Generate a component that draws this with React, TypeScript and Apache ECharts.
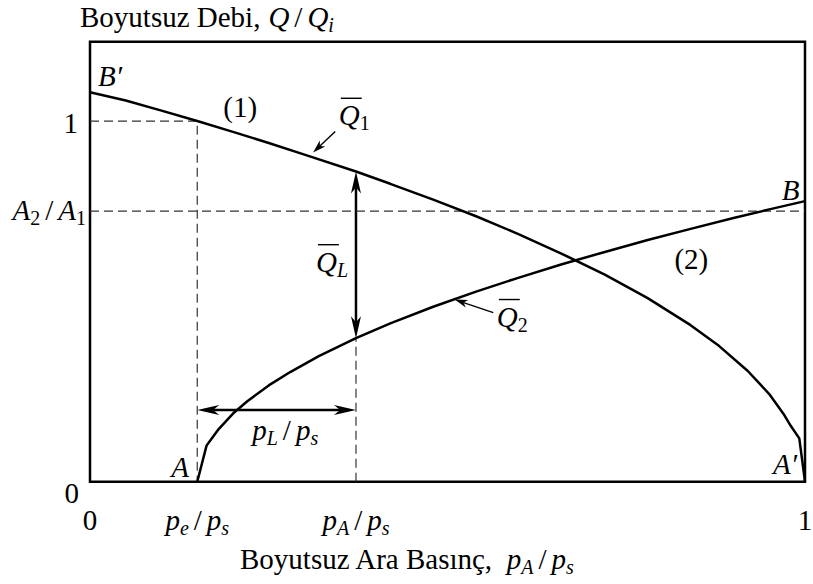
import React, { useEffect, useRef } from 'react';
import * as echarts from 'echarts';

const W = 813;
const H = 584;
const SERIF = '"Liberation Serif", "Times New Roman", Times, serif';
const FS = 29;

// Characteristic pressures (dimensionless, p / p_s) and area ratio
const pE = 0.15;
const pA = 0.372;
const areaRatio = 0.75;
const yMax = 1.22;

// Curve (1): Q1 / Qi against p_A / p_s
const q1X = [0, 0.05, 0.1, 0.15, 0.2, 0.25, 0.3, 0.372, 0.42, 0.48, 0.54, 0.6, 0.66, 0.72, 0.78, 0.84, 0.88, 0.92, 0.95, 0.97, 0.98, 0.992, 1.0];
const q1Y = [1.08, 1.057, 1.029, 1.0, 0.97, 0.939, 0.907, 0.86, 0.826, 0.782, 0.736, 0.686, 0.632, 0.574, 0.509, 0.434, 0.376, 0.307, 0.243, 0.188, 0.155, 0.12, 0];

// Curve (2): Q2 / Qi against p_A / p_s
const q2X = [0.15, 0.163, 0.17, 0.18, 0.2, 0.22, 0.25, 0.28, 0.32, 0.372, 0.42, 0.48, 0.54, 0.6, 0.66, 0.72, 0.78, 0.84, 0.9, 0.95, 1.0];
const q2Y = [0, 0.1, 0.119, 0.146, 0.189, 0.223, 0.267, 0.304, 0.348, 0.398, 0.439, 0.485, 0.527, 0.566, 0.603, 0.637, 0.67, 0.701, 0.731, 0.755, 0.778];

type Piece = { s: string; it?: boolean; sub?: boolean; gapL?: number; gapR?: number };

const slash: Piece = { s: '/', gapL: 5, gapR: 5 };

const xTickValues = [0, pE, pA, 1];
const xTickLabels: Piece[][] = [
  [{ s: '0' }],
  [{ s: 'p', it: true }, { s: 'e', it: true, sub: true }, slash, { s: 'p', it: true }, { s: 's', it: true, sub: true }],
  [{ s: 'p', it: true }, { s: 'A', it: true, sub: true }, slash, { s: 'p', it: true }, { s: 's', it: true, sub: true }],
  [{ s: '1' }],
];

const yTickValues = [0, areaRatio, 1];
const yTickLabels: Piece[][] = [
  [{ s: '0' }],
  [{ s: 'A', it: true }, { s: '2', sub: true }, slash, { s: 'A', it: true }, { s: '1', sub: true }],
  [{ s: '1' }],
];

const yTitle: Piece[] = [
  { s: 'Boyutsuz Debi,', gapR: 8 },
  { s: 'Q', it: true },
  slash,
  { s: 'Q', it: true },
  { s: 'i', it: true, sub: true },
];
const xTitle: Piece[] = [
  { s: 'Boyutsuz Ara Basınç,', gapR: 13 },
  { s: 'p', it: true },
  { s: 'A', it: true, sub: true },
  slash,
  { s: 'p', it: true },
  { s: 's', it: true, sub: true },
];

const measureCtx = document.createElement('canvas').getContext('2d') as CanvasRenderingContext2D;

function pieceSize(p: Piece, size: number) {
  return p.sub ? Math.round(size * 0.7) : size;
}

function pieceWidth(p: Piece, size: number) {
  measureCtx.font = `${p.it ? 'italic ' : ''}${pieceSize(p, size)}px ${SERIF}`;
  return measureCtx.measureText(p.s).width + (p.gapL || 0) + (p.gapR || 0);
}

// Lays out a run of upright / italic / subscript pieces; y is the vertical centre of the main text
function mathText(pieces: Piece[], x: number, y: number, anchor: 'left' | 'center' | 'right', size = FS, bar = false) {
  const widths = pieces.map((p) => pieceWidth(p, size));
  const total = widths.reduce((a, b) => a + b, 0);
  let cx = anchor === 'left' ? x : anchor === 'center' ? x - total / 2 : x - total;
  const els: any[] = [];
  pieces.forEach((p, i) => {
    const fs = pieceSize(p, size);
    els.push({
      type: 'text',
      silent: true,
      x: cx + (p.gapL || 0),
      y: p.sub ? y + size * 0.28 : y,
      style: {
        text: p.s,
        fill: '#000',
        fontSize: fs,
        fontFamily: SERIF,
        fontStyle: p.it ? 'italic' : 'normal',
        align: 'left',
        verticalAlign: 'middle',
        textAlign: 'left',
        textVerticalAlign: 'middle',
      },
    });
    if (bar && i === 0) {
      els.push({
        type: 'line',
        silent: true,
        shape: { x1: cx + 2, y1: y - 17, x2: cx + widths[0] + 2, y2: y - 17 },
        style: { stroke: '#000', lineWidth: 1.4 },
      });
    }
    cx += widths[i];
  });
  return els;
}

function head(tip: number[], ux: number, uy: number, len: number, half: number) {
  const nx = -uy;
  const ny = ux;
  const bx = tip[0] - ux * len;
  const by = tip[1] - uy * len;
  const notch = [tip[0] - ux * len * 0.72, tip[1] - uy * len * 0.72];
  return {
    el: {
      type: 'polygon',
      silent: true,
      shape: { points: [tip, [bx + nx * half, by + ny * half], notch, [bx - nx * half, by - ny * half]] },
      style: { fill: '#000' },
    },
    notch,
  };
}

// Arrow from a to b (pixels); both = arrowheads at both ends
function arrow(a: number[], b: number[], both: boolean, len: number, half: number, width: number) {
  const dx = b[0] - a[0];
  const dy = b[1] - a[1];
  const d = Math.hypot(dx, dy);
  const ux = dx / d;
  const uy = dy / d;
  const hb = head(b, ux, uy, len, half);
  const els: any[] = [hb.el];
  let start = a;
  if (both) {
    const ha = head(a, -ux, -uy, len, half);
    els.push(ha.el);
    start = ha.notch;
  }
  els.push({
    type: 'line',
    silent: true,
    shape: { x1: start[0], y1: start[1], x2: hb.notch[0], y2: hb.notch[1] },
    style: { stroke: '#000', lineWidth: width },
  });
  return els;
}

const curveStyle = { color: '#000', width: 2.5 };
const dashStyle = { color: '#333', width: 1.2, type: [9, 5] as number[] };

export default function App() {
  const ref = useRef<HTMLDivElement>(null);

  useEffect(() => {
    const chart = echarts.init(ref.current as HTMLDivElement, null, { renderer: 'svg', width: W, height: H });
    const q2AtPA = q2Y[q2X.indexOf(pA)];
    const q1AtPA = q1Y[q1X.indexOf(pA)];

    chart.setOption({
      animation: false,
      backgroundColor: '#fff',
      grid: {
        left: 90,
        right: 8,
        top: 41.7,
        bottom: 102.3,
        show: true,
        borderColor: '#000',
        borderWidth: 2.5,
        backgroundColor: 'transparent',
      },
      xAxis: {
        type: 'value',
        min: 0,
        max: 1,
        axisLine: { show: false },
        axisTick: { show: false },
        axisLabel: { show: false },
        splitLine: { show: false },
      },
      yAxis: {
        type: 'value',
        min: 0,
        max: yMax,
        axisLine: { show: false },
        axisTick: { show: false },
        axisLabel: { show: false },
        splitLine: { show: false },
      },
      series: [
        {
          type: 'line',
          data: [[0, 1], [pE, 1], [pE, 0]],
          showSymbol: false,
          silent: true,
          lineStyle: dashStyle,
          z: 2,
        },
        {
          type: 'line',
          data: [[0, areaRatio], [1, areaRatio]],
          showSymbol: false,
          silent: true,
          lineStyle: dashStyle,
          z: 2,
        },
        {
          type: 'line',
          data: [[pA, 0], [pA, q2AtPA]],
          showSymbol: false,
          silent: true,
          lineStyle: dashStyle,
          z: 2,
        },
        {
          name: 'Q1',
          type: 'line',
          data: q1X.map((x, i) => [x, q1Y[i]]),
          showSymbol: false,
          silent: true,
          lineStyle: curveStyle,
          z: 5,
        },
        {
          name: 'Q2',
          type: 'line',
          data: q2X.map((x, i) => [x, q2Y[i]]),
          showSymbol: false,
          silent: true,
          lineStyle: curveStyle,
          z: 5,
        },
      ],
    });

    const px = (x: number, y: number) => chart.convertToPixel({ gridIndex: 0 }, [x, y]) as number[];
    const x0 = px(0, 0);
    const els: any[] = [];

    // tick labels
    xTickValues.forEach((v, i) => {
      const p = px(v, 0);
      els.push(...mathText(xTickLabels[i], p[0], x0[1] + 38, 'center'));
    });
    const yOffsets = [11, -1, 2];
    const yRight = [79, 86, 78];
    yTickValues.forEach((v, i) => {
      const p = px(0, v);
      els.push(...mathText(yTickLabels[i], yRight[i], p[1] + yOffsets[i], 'right'));
    });

    // axis titles
    els.push(...mathText(yTitle, 80, 17, 'left'));
    els.push(...mathText(xTitle, 240, 559, 'left'));

    // point and region labels
    const lab = (pieces: Piece[], x: number, y: number, anchor: 'left' | 'center' | 'right', size = FS, bar = false) => {
      const p = px(x, y);
      els.push(...mathText(pieces, p[0], p[1], anchor, size, bar));
    };
    lab([{ s: 'B′', it: true }], 0.0112, 1.124, 'left');
    lab([{ s: '(1)' }], 0.21, 1.038, 'center');
    lab([{ s: '(2)' }], 0.841, 0.618, 'center');
    lab([{ s: 'B', it: true }], 0.98, 0.81, 'center');
    lab([{ s: 'A', it: true }], 0.126, 0.041, 'center');
    lab([{ s: 'A′', it: true }], 0.972, 0.049, 'center');
    lab([{ s: 'Q', it: true }, { s: '1', sub: true }], 0.348, 1.016, 'left', FS, true);
    lab([{ s: 'Q', it: true }, { s: 'L', it: true, sub: true }], 0.316, 0.61, 'left', FS, true);
    lab([{ s: 'Q', it: true }, { s: '2', sub: true }], 0.569, 0.458, 'left', FS, true);
    lab([{ s: 'p', it: true }, { s: 'L', it: true, sub: true }, slash, { s: 'p', it: true }, { s: 's', it: true, sub: true }], 0.273, 0.144, 'center');

    // arrows
    els.push(...arrow(px(pA, q2AtPA), px(pA, q1AtPA), true, 22, 5, 2.5));
    els.push(...arrow(px(pE, 0.199), px(pA, 0.199), true, 22, 5, 2.5));
    els.push(...arrow(px(0.343, 0.971), px(0.312, 0.913), false, 13, 4, 1.4));
    els.push(...arrow(px(0.564, 0.469), px(0.51, 0.505), false, 13, 4, 1.4));

    chart.setOption({ graphic: { elements: els } });

    return () => chart.dispose();
  }, []);

  return (
    <div
      ref={ref}
      style={{ position: 'fixed', left: 0, top: 0, width: W, height: H, background: '#fff' }}
    />
  );
}
